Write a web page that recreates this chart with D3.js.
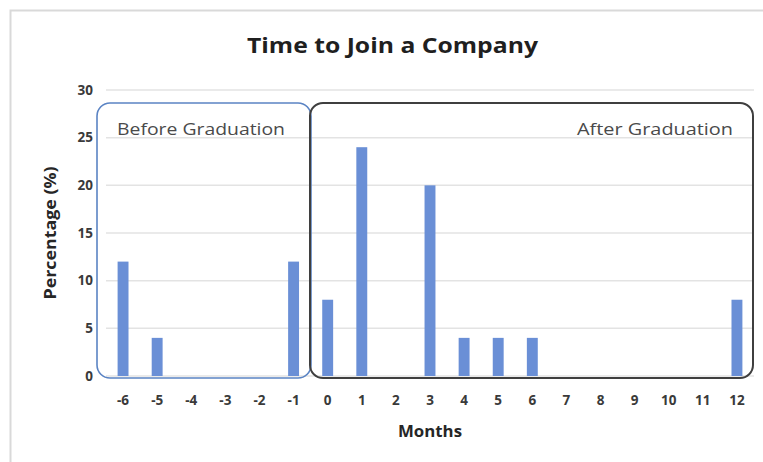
<!DOCTYPE html>
<html>
<head>
<meta charset="utf-8">
<script src="https://cdn.jsdelivr.net/npm/d3@7"></script>
<style>
  html, body { margin: 0; padding: 0; background: #fff; }
  svg { display: block; }
  text { font-family: "Open Sans", "Noto Sans", "DejaVu Sans", sans-serif; }
</style>
</head>
<body>
<svg id="chart" width="763" height="462"></svg>
<script>
const months = ["-6","-5","-4","-3","-2","-1","0","1","2","3","4","5","6","7","8","9","10","11","12"];
const percentages = [12, 4, 0, 0, 0, 12, 8, 24, 0, 20, 4, 4, 4, 0, 0, 0, 0, 0, 8];
const yTicks = [0, 5, 10, 15, 20, 25, 30];
const groups = [
  { label: "Before Graduation", color: "#5b84c4", anchor: "start" },
  { label: "After Graduation", color: "#3f3f3f", anchor: "end" }
];

const svg = d3.select("#chart");
const W = 763, H = 462;
const FONT = "'Open Sans', 'Noto Sans', sans-serif";

// outer chart-area border (clipped by window on the right/bottom)
svg.append("rect")
  .attr("x", 10.5).attr("y", 10.5)
  .attr("width", W + 20).attr("height", H + 20)
  .attr("fill", "#fff").attr("stroke", "#d9d9d9").attr("stroke-width", 2);

const x = d3.scaleBand().domain(months).range([106, 754]).paddingInner(0.68).paddingOuter(0.34);
const y = d3.scaleLinear().domain([0, 30]).range([376, 90]);

// gridlines
svg.append("g").selectAll("line").data(yTicks).join("line")
  .attr("x1", 106).attr("x2", 754)
  .attr("y1", d => y(d)).attr("y2", d => y(d))
  .attr("stroke", "#e3e3e3").attr("stroke-width", 1.5);

// y axis labels
const yAxis = d3.axisLeft(y).tickValues(yTicks).tickSize(0).tickPadding(0);
const yg = svg.append("g").attr("transform", "translate(93,0)").call(yAxis);
yg.select(".domain").remove();
yg.selectAll("text")
  .attr("font-size", 13.5).attr("font-weight", "bold").attr("fill", "#3a3a3a")
  .attr("font-family", FONT);

// x axis labels
const xAxis = d3.axisBottom(x).tickSize(0).tickPadding(0);
const xg = svg.append("g").attr("transform", "translate(0,395)").call(xAxis);
xg.select(".domain").remove();
xg.selectAll("text")
  .attr("font-size", 13.5).attr("font-weight", "bold").attr("fill", "#3a3a3a")
  .attr("font-family", FONT);

// bars
svg.append("g").selectAll("rect").data(months.map((m, i) => ({ m, v: percentages[i] }))).join("rect")
  .attr("x", d => x(d.m)).attr("width", x.bandwidth())
  .attr("y", d => y(d.v)).attr("height", d => y(0) - y(d.v))
  .attr("fill", "#6a8fd6");

// group boxes
groups.forEach((g, i) => {
  const left = i === 0 ? 97 : 310;
  const right = i === 0 ? 311 : 753;
  svg.append("rect")
    .attr("x", left).attr("y", 103)
    .attr("width", right - left).attr("height", 275)
    .attr("rx", 13).attr("ry", 13)
    .attr("fill", "none").attr("stroke", g.color)
    .attr("stroke-width", i === 0 ? 1.6 : 2);
  svg.append("text")
    .attr("x", g.anchor === "start" ? 117 : 733)
    .attr("y", 135)
    .attr("text-anchor", g.anchor)
    .attr("font-size", 17).attr("fill", "#4a4a4a")
    .attr("textLength", i === 0 ? 168 : 156)
    .attr("lengthAdjust", "spacingAndGlyphs")
    .text(g.label);
});

// title
svg.append("text")
  .attr("x", 247).attr("y", 53)
  .attr("font-size", 21).attr("font-weight", "bold").attr("fill", "#1f1f1f")
  .attr("textLength", 291).attr("lengthAdjust", "spacingAndGlyphs")
  .text("Time to Join a Company");

// axis titles
svg.append("text")
  .attr("x", 398).attr("y", 437)
  .attr("font-size", 16).attr("font-weight", "bold").attr("fill", "#262626")
  .attr("textLength", 64).attr("lengthAdjust", "spacingAndGlyphs")
  .text("Months");
svg.append("text")
  .attr("transform", "translate(56,233) rotate(-90)")
  .attr("text-anchor", "middle")
  .attr("font-size", 15.5).attr("font-weight", "bold").attr("fill", "#262626")
  .attr("textLength", 133).attr("lengthAdjust", "spacingAndGlyphs")
  .text("Percentage (%)");
</script>
</body>
</html>
